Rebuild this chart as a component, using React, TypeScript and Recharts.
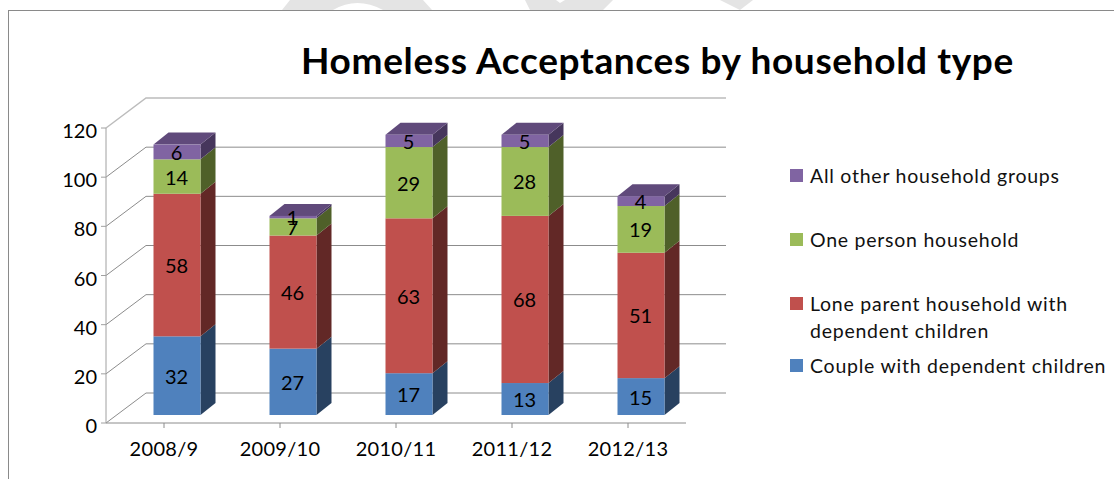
import { Bar, BarChart, CartesianGrid, LabelList, Legend, XAxis, YAxis } from "recharts"

const years = ["2008/9", "2009/10", "2010/11", "2011/12", "2012/13"]
const couple = [32, 27, 17, 13, 15]
const loneParent = [58, 46, 63, 68, 51]
const onePerson = [14, 7, 29, 28, 19]
const otherGroups = [6, 1, 5, 5, 4]
const yTicks = [0, 20, 40, 60, 80, 100, 120]

const FONT = "Lato, sans-serif"
const LABEL_SIZE = 20

// oblique offset of the back wall from the front axes
const WALL_DX = 40
const WALL_DY = -30
// bars sit part way into the floor, and have their own depth
const BAR_DX = 12.5
const BAR_DY = -8
const DEPTH_DX = 15
const DEPTH_DY = -12

const chartData = years.map((year, i) => ({
  year,
  couple: couple[i],
  loneParent: loneParent[i],
  onePerson: onePerson[i],
  otherGroups: otherGroups[i],
}))

const faces = {
  couple: { front: "#4f81bd", side: "#284160" },
  loneParent: { front: "#c0504d", side: "#622826" },
  onePerson: { front: "#9bbb59", side: "#4f6029" },
  otherGroups: { front: "#8064a2", side: "#46365c", top: "#604a7b" },
}

// front face, side face and (for the last series) the lid of a stacked bar
function boxShape(face: { front: string; side: string; top?: string }) {
  return (props: any) => {
    const x = props.x + BAR_DX
    const y = props.y + BAR_DY
    const { width: w, height: h } = props
    return (
      <g>
        <path
          d={`M${x + w} ${y} l${DEPTH_DX} ${DEPTH_DY} v${h} l${-DEPTH_DX} ${-DEPTH_DY} z`}
          fill={face.side}
        />
        {face.top && (
          <path
            d={`M${x} ${y} l${DEPTH_DX} ${DEPTH_DY} h${w} l${-DEPTH_DX} ${-DEPTH_DY} z`}
            fill={face.top}
          />
        )}
        <rect x={x} y={y} width={w} height={h} fill={face.front} />
      </g>
    )
  }
}

function renderValue(props: any) {
  const { x, y, width, height, value } = props
  return (
    <text
      x={x + BAR_DX + width / 2 - 0.5}
      y={y + BAR_DY + height / 2}
      textAnchor="middle"
      dominantBaseline="central"
      fontFamily={FONT}
      fontSize={LABEL_SIZE}
      fill="#000"
    >
      {value}
    </text>
  )
}

// a gridline runs up the side wall from the axis, then along the back wall
function renderGridLine(props: any) {
  const { x1, x2, y1, index } = props
  const isTop = y1 < 130
  return (
    <path
      key={index}
      d={`M${x1} ${y1} l${WALL_DX} ${WALL_DY} L${x2 + WALL_DX} ${y1 + WALL_DY}`}
      fill="none"
      stroke={isTop ? "#bcbcbc" : "#8c8c8c"}
      strokeWidth={isTop ? 1.5 : 1}
    />
  )
}

const legendTops = [167, 231, 295, 357]

function renderLegend(props: any) {
  const items = [...props.payload].reverse()
  return (
    <div style={{ position: "relative", width: 324, height: 240 }}>
      {items.map((item: any, i: number) => (
        <div key={item.value} style={{ position: "absolute", left: 0, top: legendTops[i] - 160, display: "flex" }}>
          <span
            style={{ width: 13, height: 13, marginTop: 2, marginRight: 7, background: item.color, flex: "none" }}
          />
          <span
            style={{
              fontFamily: FONT,
              fontSize: 19.5,
              lineHeight: "27px",
              marginTop: -5,
              letterSpacing: 0.75,
              color: "#111",
              width: 300,
            }}
          >
            {item.value}
          </span>
        </div>
      ))}
    </div>
  )
}

export default function App() {
  return (
    <div style={{ position: "absolute", left: 0, top: 0, width: 1114, height: 479, background: "#fff", overflow: "hidden" }}>
      {/* faint shapes cut off above the frame */}
      <svg width={1114} height={11} style={{ position: "absolute", left: 0, top: 0 }}>
        <path d="M282 10 L290 0 H423 L432 10 H383 Q357 -4 333 10 Z" fill="#e4e4e4" />
        <path d="M525 0 L530 10 H603 L613 0 H565 L560 3 L556 0 Z" fill="#e4e4e4" />
        <path d="M720 0 L740 10 L753 0 Z" fill="#e4e4e4" />
      </svg>
      <div
        style={{
          position: "absolute",
          left: 8,
          top: 10,
          width: 1106,
          height: 469,
          borderLeft: "1.5px solid #8a8a8a",
          borderTop: "1.5px solid #8a8a8a",
          boxSizing: "border-box",
        }}
      />
      <div
        style={{
          position: "absolute",
          left: 301,
          top: 38,
          fontFamily: FONT,
          fontWeight: 700,
          fontSize: 37,
          letterSpacing: 0.65,
          lineHeight: "44px",
          color: "#000",
          whiteSpace: "nowrap",
        }}
      >
        Homeless Acceptances by household type
      </div>
      <BarChart
        width={1114}
        height={479}
        data={chartData}
        margin={{ top: 128, right: 428, bottom: 26, left: 46 }}
        style={{ position: "absolute", left: 0, top: 0 }}
      >
        <CartesianGrid vertical={false} horizontal={renderGridLine} />
        <XAxis
          dataKey="year"
          height={30}
          interval={0}
          axisLine={{ stroke: "#8c8c8c" }}
          tickLine={{ stroke: "#8c8c8c" }}
          tickSize={5}
          tick={{ fontFamily: FONT, fontSize: 20, letterSpacing: 0.3, fill: "#000" }}
          tickMargin={14}
        />
        <YAxis
          width={60}
          domain={[0, 120]}
          ticks={yTicks}
          axisLine={{ stroke: "#a0a0a0" }}
          tickLine={{ stroke: "#a0a0a0" }}
          tickSize={5}
          tickMargin={4}
          tick={{ fontFamily: FONT, fontSize: LABEL_SIZE, fill: "#000", dy: 3 }}
        />
        <Bar
          dataKey="couple"
          name="Couple with dependent children"
          stackId="a"
          barSize={47}
          fill={faces.couple.front}
          shape={boxShape(faces.couple)}
          isAnimationActive={false}
        >
          <LabelList dataKey="couple" content={renderValue} />
        </Bar>
        <Bar
          dataKey="loneParent"
          name="Lone parent household with dependent children"
          stackId="a"
          barSize={47}
          fill={faces.loneParent.front}
          shape={boxShape(faces.loneParent)}
          isAnimationActive={false}
        >
          <LabelList dataKey="loneParent" content={renderValue} />
        </Bar>
        <Bar
          dataKey="onePerson"
          name="One person household"
          stackId="a"
          barSize={47}
          fill={faces.onePerson.front}
          shape={boxShape(faces.onePerson)}
          isAnimationActive={false}
        >
          <LabelList dataKey="onePerson" content={renderValue} />
        </Bar>
        <Bar
          dataKey="otherGroups"
          name="All other household groups"
          stackId="a"
          barSize={47}
          fill={faces.otherGroups.front}
          shape={boxShape(faces.otherGroups)}
          isAnimationActive={false}
        >
          <LabelList dataKey="otherGroups" content={renderValue} />
        </Bar>
        <Legend
          layout="vertical"
          align="center"
          verticalAlign="middle"
          itemSorter={null}
          content={renderLegend}
          wrapperStyle={{ left: 790, top: 160, width: 324 }}
        />
      </BarChart>
    </div>
  )
}
